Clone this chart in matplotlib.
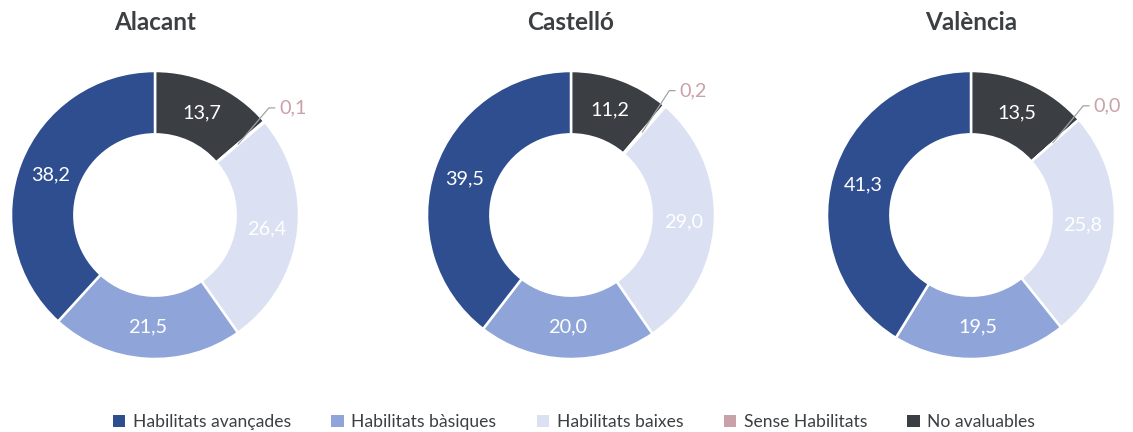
import matplotlib
matplotlib.use("Agg")
import matplotlib.pyplot as plt
from matplotlib.patches import Patch
import numpy as np

plt.rcParams['font.family'] = ['Lato', 'DejaVu Sans']

regions = ["Alacant", "Castelló", "València"]
categories = ["No avaluables", "Sense Habilitats", "Habilitats baixes",
              "Habilitats bàsiques", "Habilitats avançades"]
alacant = [13.7, 0.1, 26.4, 21.5, 38.2]
castello = [11.2, 0.2, 29.0, 20.0, 39.5]
valencia = [13.5, 0.0, 25.8, 19.5, 41.3]
series = [alacant, castello, valencia]

colors = {"No avaluables": "#3b3f43",
          "Sense Habilitats": "#c9a1a9",
          "Habilitats baixes": "#dbe1f3",
          "Habilitats bàsiques": "#8fa5d9",
          "Habilitats avançades": "#2f4e90"}
legend_order = ["Habilitats avançades", "Habilitats bàsiques", "Habilitats baixes",
                "Sense Habilitats", "No avaluables"]

W, H = 1133, 432
fig = plt.figure(figsize=(W / 100, H / 100), dpi=100)

centers_x = [155, 571, 971]
cy = 215
R = 144

def fmt(v):
    return f"{v:.1f}".replace(".", ",")

for name, vals, cx in zip(regions, series, centers_x):
    ax = fig.add_axes([(cx - R) / W, (H - cy - R) / H, 2 * R / W, 2 * R / H])
    plot_vals = [max(v, 1e-6) for v in vals]
    ax.pie(plot_vals, colors=[colors[c] for c in categories], startangle=90,
           counterclock=False, radius=1.0,
           wedgeprops=dict(width=0.44, edgecolor="white", linewidth=1.8))
    ax.set_xlim(-1, 1)
    ax.set_ylim(-1, 1)
    ax.set_aspect("equal")
    ax.axis("off")
    total = sum(vals)
    cum = 0.0
    for cat, v in zip(categories, vals):
        mid = (cum + v / 2) / total * 2 * np.pi
        cum += v
        sx, sy = np.sin(mid), np.cos(mid)
        if v >= 1:
            ax.text(0.78 * sx, 0.78 * sy, fmt(v), color="white", fontsize=14.3,
                    ha="center", va="center")
        else:
            x0, y0 = 0.76 * sx, 0.76 * sy
            ex, ey = sx + 0.03, 1.1 * sy + 0.03
            ax.plot([x0, ex, ex + 0.04], [y0, ey, ey], color="#a0a4a8", lw=0.9,
                    clip_on=False)
            ax.text(ex + 0.07, ey, fmt(v), color=colors[cat], fontsize=14.3,
                    ha="left", va="center", clip_on=False)
    fig.text(cx / W, 1 - 22 / H, name, ha="center", va="center", fontsize=17.5,
             fontweight="bold", color="#3c4043")

handles = [Patch(facecolor=colors[c], edgecolor="none") for c in legend_order]
fig.legend(handles, legend_order, loc="center", bbox_to_anchor=(574 / W, 1 - 422 / H),
           ncol=5, frameon=False, fontsize=12.6, handlelength=0.7, handleheight=0.7,
           handletextpad=0.45, columnspacing=2.3, labelcolor="#3c4043")

fig.savefig("out.png", dpi=100)
